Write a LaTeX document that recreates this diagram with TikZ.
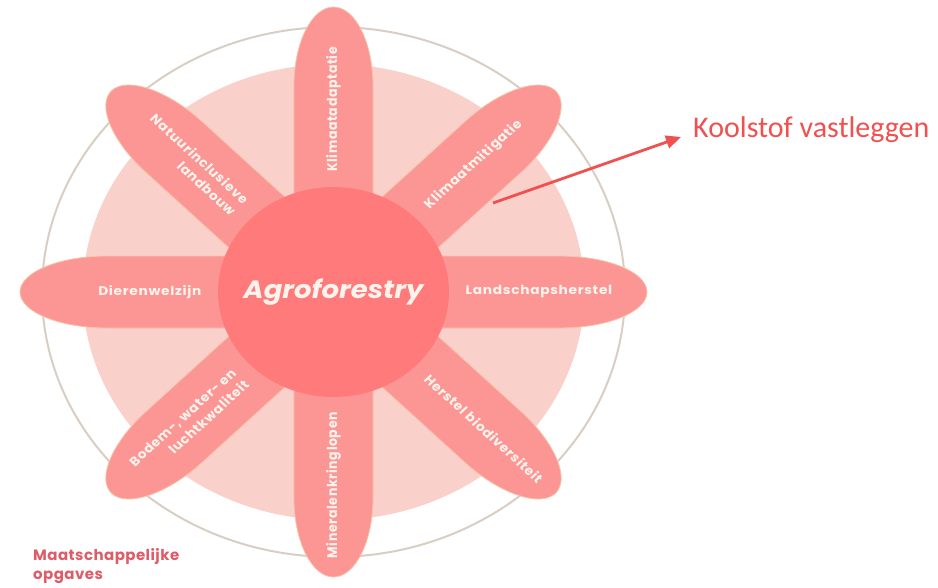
\documentclass[tikz,border=0pt]{standalone}
\usepackage{fontspec}
\setsansfont{Poppins}
\newfontfamily\calibrifont{Carlito}
\usetikzlibrary{arrows.meta}

\definecolor{petalred}{RGB}{252,150,148}
\definecolor{petaledge}{RGB}{246,196,168}
\definecolor{heartred}{RGB}{255,123,123}
\definecolor{diskpink}{RGB}{250,208,202}
\definecolor{ringgrey}{RGB}{216,206,196}
\definecolor{creamwhite}{RGB}{252,244,236}
\definecolor{opgaverood}{RGB}{222,92,104}
\definecolor{koolrood}{RGB}{240,80,80}

\tikzset{
  petal/.style={fill=petalred,draw=petaledge,line width=0.8pt},
  petaltext/.style={text=creamwhite,font=\sffamily\bfseries\fontsize{12.5}{16.5}\selectfont\addfontfeatures{LetterSpace=5},
    inner sep=0pt,transform shape},
  koolarrow/.style={draw=koolrood,line width=2.8pt,-{Triangle[length=15pt,width=13pt]}}
}

\begin{document}
\begin{tikzpicture}[x=1pt,y=1pt]
\useasboundingbox (0,0) rectangle (938,-587);

% bloem, iets breed getrokken
\begin{scope}[shift={(333.5,-292)},xscale=1.1]
  \draw[ringgrey,line width=2pt] (0,0) circle (265);
  \fill[diskpink] (0,0) circle (228);
  \foreach \hoek in {0,45,...,315}
    \draw[petal,rotate=\hoek] (0,-36) -- (205,-36)
      arc[start angle=-90,end angle=90,x radius=80,y radius=36] -- (0,36) -- cycle;
  \fill[heartred] (0,0) circle (105);
  \node[text=creamwhite,font=\sffamily\bfseries\itshape\fontsize{25}{30}\selectfont,transform shape]
    (agro) at (0,0) {Agroforestry};
  \node[petaltext,anchor=west] (landschap) at (0:120) {Landschapsherstel};
  \node[petaltext,anchor=west,rotate=45] (mitigatie) at (45:120) {Klimaatmitigatie};
  \node[petaltext,anchor=west,rotate=90] (adaptatie) at (90:120) {Klimaatadaptatie};
  \node[petaltext,anchor=east,rotate=-45,align=right] (natuur) at (135:120) {Natuurinclusieve\\landbouw};
  \node[petaltext,anchor=east] (dieren) at (180:120) {Dierenwelzijn};
  \node[petaltext,anchor=east,rotate=45,align=right] (bodem) at (225:120) {Bodem-, water- en\\luchtkwaliteit};
  \node[petaltext,anchor=east,rotate=90] (mineraal) at (270:120) {Mineralenkringlopen};
  \node[petaltext,anchor=west,rotate=-45] (biodiv) at (315:120) {Herstel biodiversiteit};
\end{scope}

\node[anchor=north west,align=left,inner sep=0pt,text=opgaverood,
  font=\sffamily\bfseries\fontsize{15}{19}\selectfont\addfontfeatures{LetterSpace=3}] (opgaves) at (33,-548) {Maatschappelijke\\opgaves};

\coordinate (pijlstart) at (493,-203);
\node[anchor=base west,inner sep=0pt,text=koolrood,font=\calibrifont\fontsize{30}{34}\selectfont]
  (koolstof) at (693,-137) {Koolstof vastleggen};
\draw[koolarrow] (pijlstart) -- ([xshift=-12pt]koolstof.base west);
\end{tikzpicture}
\end{document}
